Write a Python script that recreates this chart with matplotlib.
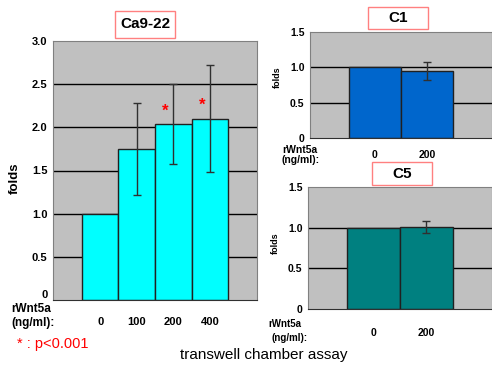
import matplotlib
matplotlib.use("Agg")
import matplotlib.pyplot as plt
from matplotlib.patches import Rectangle

plt.rcParams["font.family"] = ["Liberation Sans", "DejaVu Sans"]

# --- data ---
ca_doses = ["0", "100", "200", "400"]
ca_folds = [1.0, 1.75, 2.04, 2.10]
ca_err = [0.0, 0.53, 0.46, 0.62]
ca_sig = [False, False, True, True]

c1_doses = ["0", "200"]
c1_folds = [1.0, 0.95]
c1_err = [0.0, 0.13]

c5_doses = ["0", "200"]
c5_folds = [1.0, 1.01]
c5_err = [0.0, 0.07]

W, H = 492, 367
fig = plt.figure(figsize=(W / 100, H / 100), dpi=100)
fig.patch.set_facecolor("white")


def px(x0, y0, x1, y1):
    """pixel box (top-left origin) -> figure fraction rect"""
    return [x0 / W, 1 - y1 / H, (x1 - x0) / W, (y1 - y0) / H]


def ftext(xp, yp, s, **kw):
    fig.text(xp / W, 1 - yp / H, s, **kw)


def panel(rect, labels, vals, errs, color, ymax, yticks, tick_fs, xpad, xpad_lbl):
    ax = fig.add_axes(rect)
    ax.set_facecolor("#C0C0C0")
    x = list(range(len(vals)))
    for yv in yticks[1:]:
        if yv < ymax:
            ax.axhline(yv, color="black", lw=1.0, zorder=1)
    ax.bar(x, vals, width=1.0, color=color, edgecolor="#202020", lw=1.0, zorder=2)
    for xi, v, e in zip(x, vals, errs):
        if e > 0:
            ax.errorbar(xi, v, yerr=e, fmt="none", ecolor="#303030", elinewidth=1.0,
                        capsize=3, capthick=1.0, zorder=3)
    ax.set_xlim(-0.5 - xpad, len(vals) - 0.5 + xpad)
    ax.set_ylim(0, ymax)
    ax.set_yticks(yticks)
    ax.set_yticklabels(["0" if t == 0 else f"{t:.1f}" for t in yticks],
                       fontsize=tick_fs, fontweight="bold")
    ax.set_xticks(x)
    ax.set_xticklabels(labels, fontsize=tick_fs, fontweight="bold")
    ax.tick_params(length=0, pad=4)
    ax.tick_params(axis="x", pad=xpad_lbl)
    for s in ["top", "left", "right"]:
        ax.spines[s].set_color("#808080")
    ax.spines["bottom"].set_color("#303030")
    return ax


ax1 = panel(px(53, 41, 257, 300), ca_doses, ca_folds, ca_err, "#00FFFF",
            3.0, [0, 0.5, 1.0, 1.5, 2.0, 2.5, 3.0], 8, 0.79, 12)
ax1.get_yticklabels()[0].set_verticalalignment("bottom")
for xi, v, e, s in zip(range(len(ca_folds)), ca_folds, ca_err, ca_sig):
    if s:
        ax1.text(xi - 0.22, v + 0.15, "*", color="red", fontsize=12,
                 fontweight="bold", ha="center", va="center")

ax2 = panel(px(310, 32, 492, 138), c1_doses, c1_folds, c1_err, "#0066CC",
            1.5, [0, 0.5, 1.0, 1.5], 7.5, 0.74, 9)
ax3 = panel(px(308, 187, 492, 309), c5_doses, c5_folds, c5_err, "#008080",
            1.5, [0, 0.5, 1.0, 1.5], 7.5, 0.74, 14)

ftext(15, 178, "folds", fontsize=9.5, fontweight="bold", rotation=90,
      ha="center", va="center")
ftext(277, 77, "folds", fontsize=6.5, fontweight="bold", rotation=90,
      ha="center", va="center")
ftext(275, 243, "folds", fontsize=6.5, fontweight="bold", rotation=90,
      ha="center", va="center")


def title_box(x0, y0, x1, y1, s, fs):
    fig.add_artist(Rectangle((x0 / W, 1 - y1 / H), (x1 - x0) / W, (y1 - y0) / H,
                             transform=fig.transFigure, facecolor="white",
                             edgecolor="#FF8080", lw=1.0))
    ftext((x0 + x1) / 2, (y0 + y1) / 2, s, fontsize=fs, fontweight="bold",
          ha="center", va="center")


title_box(115, 11, 175, 38, "Ca9-22", 11)
title_box(368, 7, 428, 29, "C1", 11)
title_box(372, 162, 432, 185, "C5", 11)

ftext(11, 309, "rWnt5a", fontsize=8.5, fontweight="bold", va="center")
ftext(11, 323, "(ng/ml):", fontsize=8.5, fontweight="bold", va="center")
ftext(282, 150, "rWnt5a", fontsize=7.5, fontweight="bold", va="center")
ftext(281, 160, "(ng/ml):", fontsize=7.5, fontweight="bold", va="center")
ftext(268, 324, "rWnt5a", fontsize=7, fontweight="bold", va="center")
ftext(271, 338, "(ng/ml):", fontsize=7, fontweight="bold", va="center")

ftext(17, 344, "* : p<0.001", color="red", fontsize=10.5, va="center")
ftext(180, 355, "transwell chamber assay", fontsize=11, va="center")

fig.savefig("out.png", dpi=100)
